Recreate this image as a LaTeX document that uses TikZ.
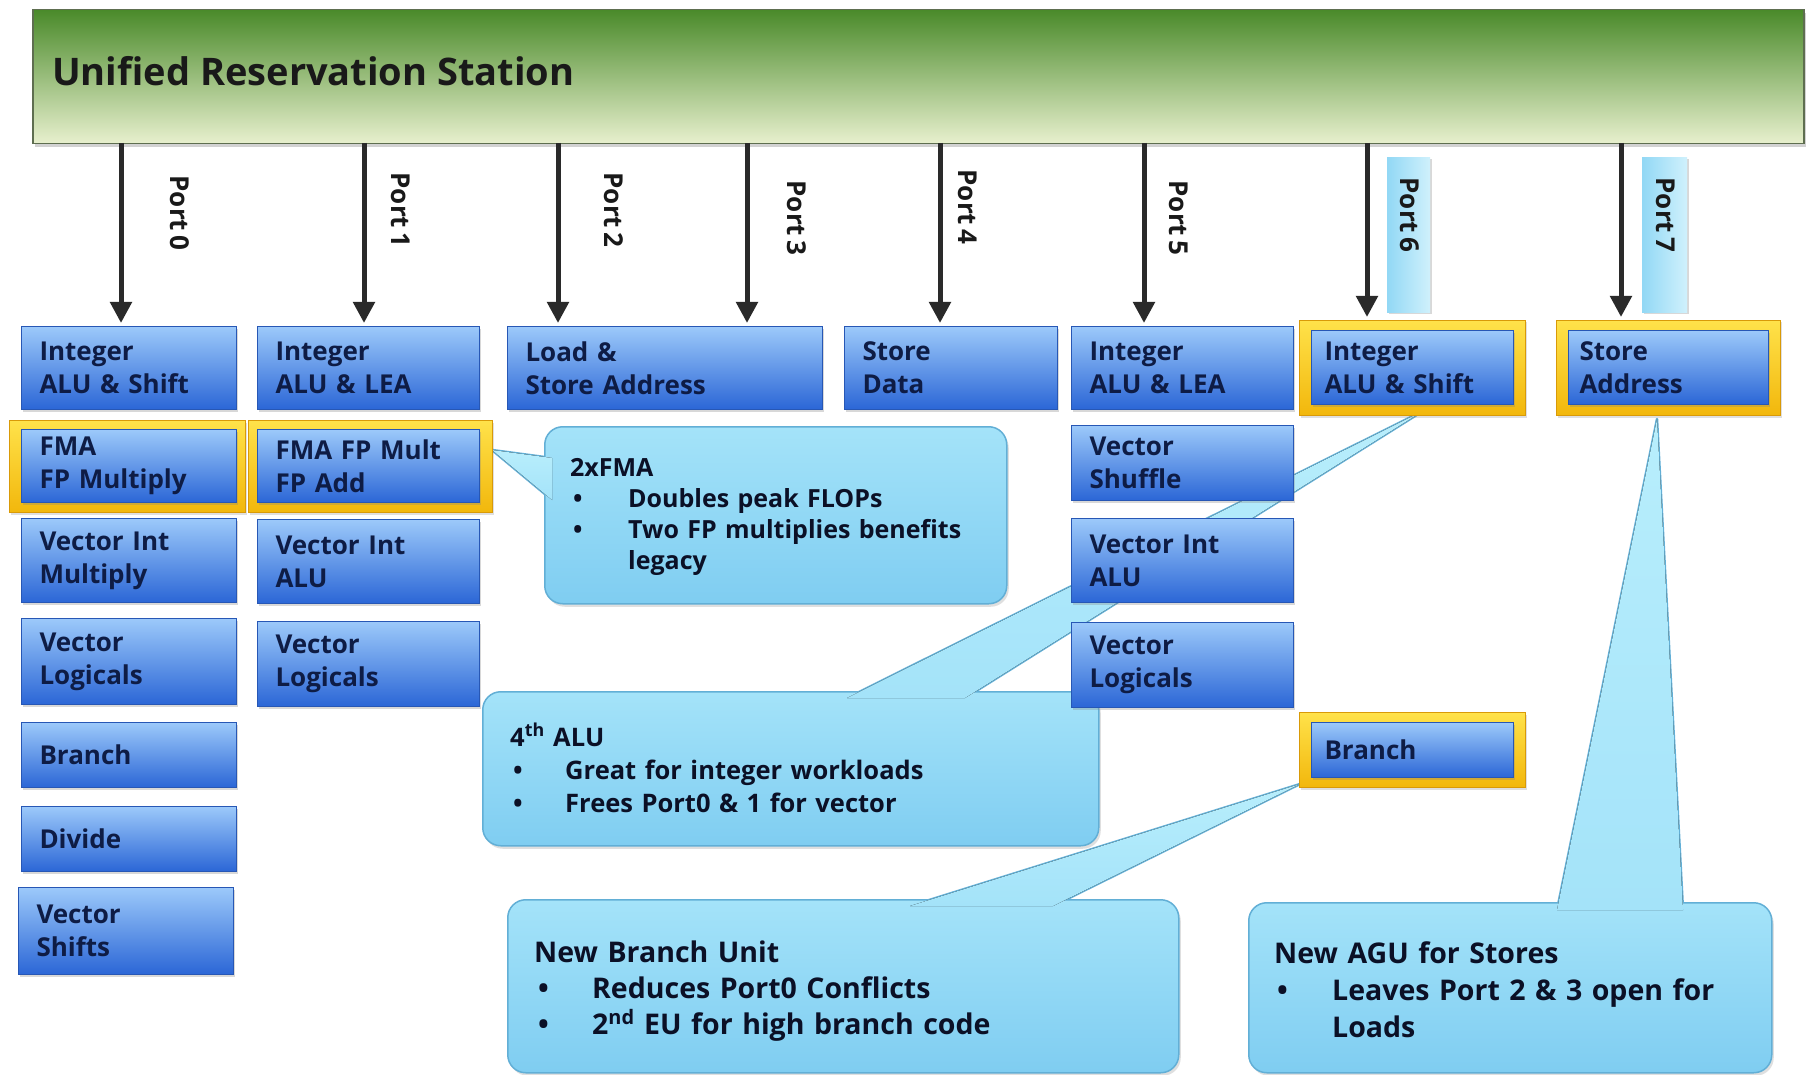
\documentclass[tikz,border=0pt]{standalone}
\usepackage{fontspec}
\setmainfont{Open Sans}
\usetikzlibrary{arrows.meta,shadows}

\definecolor{rsTop}{HTML}{4A8A2A}
\definecolor{rsMid}{HTML}{9CC46C}
\definecolor{rsBot}{HTML}{E8F0CE}
\definecolor{rsEdge}{HTML}{5E6E50}
\definecolor{unitTop}{HTML}{9CC9FA}
\definecolor{unitMid}{HTML}{5C9CF0}
\definecolor{unitBot}{HTML}{2B66D6}
\definecolor{unitEdge}{HTML}{2757B5}
\definecolor{unitText}{HTML}{0E1C45}
\definecolor{hlTop}{HTML}{FFE24A}
\definecolor{hlBot}{HTML}{F2B70C}
\definecolor{hlEdge}{HTML}{D99A08}
\definecolor{noteTop}{HTML}{A4E3F9}
\definecolor{noteBot}{HTML}{7FCDF1}
\definecolor{noteEdge}{HTML}{62AFD6}
\definecolor{tailTop}{HTML}{B8EEFC}
\definecolor{barL}{HTML}{92D8F5}
\definecolor{barR}{HTML}{D0F1FC}
\definecolor{arrowInk}{HTML}{2A2A2A}
\definecolor{noteInk}{HTML}{0B1026}

\tikzset{
  rsbar/.style={anchor=north west, inner sep=0pt, draw=rsEdge, line width=1.5pt,
    top color=rsTop, middle color=rsMid, bottom color=rsBot,
    drop shadow={shadow xshift=2pt, shadow yshift=-3pt, opacity=0.35}},
  unit/.style={anchor=north west, draw=unitEdge, line width=1pt,
    top color=unitTop, middle color=unitMid, bottom color=unitBot,
    text=unitText, align=left, inner xsep=18pt, inner ysep=0pt,
    font=\fontsize{26}{33}\selectfont\bfseries,
    drop shadow={shadow xshift=1.5pt, shadow yshift=-2pt, opacity=0.3}},
  hilite/.style={anchor=north west, inner sep=0pt, draw=hlEdge, line width=1pt,
    top color=hlTop, bottom color=hlBot,
    drop shadow={shadow xshift=1.5pt, shadow yshift=-2pt, opacity=0.25}},
  portbar/.style={anchor=north west, inner sep=0pt, left color=barL, right color=barR,
    drop shadow={shadow xshift=1.5pt, shadow yshift=-2pt, opacity=0.3}},
  portlabel/.style={rotate=-90, inner sep=0pt, text=black!90,
    font=\fontsize{26}{26}\selectfont\bfseries},
  portarrow/.style={draw=arrowInk, line width=5pt, shorten >=3pt,
    -{Triangle[width=21pt,length=21pt]}},
  note/.style={anchor=north west, inner sep=0pt, rounded corners=18pt,
    draw=noteEdge, line width=1.5pt, top color=noteTop, bottom color=noteBot,
    drop shadow={shadow xshift=2pt, shadow yshift=-3pt, opacity=0.25}},
  tailedge/.style={draw=noteEdge, line width=2.5pt, line join=round},
  tailfill/.style={top color=tailTop, bottom color=noteTop},
  notetext/.style={anchor=base west, inner sep=0pt, align=left, text=noteInk,
    text width=560pt},
}

\newcommand{\blt}[1]{\makebox[#1][l]{\textbullet}}

\begin{document}
\begin{tikzpicture}[x=1pt,y=-1pt]
\useasboundingbox[fill=white] (0,0) rectangle (1807,1075);

% reservation station
\node[rsbar, minimum width=1771pt, minimum height=134pt] (rs) at (32,9) {};
\node[anchor=base west, inner sep=0pt, text=black!90,
  font=\fontsize{38}{38}\selectfont\bfseries] (rstitle) at (52,86) {Unified Reservation Station};

% ---- callouts (drawn first, boxes sit on top) ----
% new AGU
\draw[tailedge] (1657,419) -- (1557,910) -- (1683,910) -- cycle;
\node[note, minimum width=523pt, minimum height=170pt] (cagu) at (1248,902) {};
\fill[tailfill] (1657,419) -- (1557,910) -- (1683,910) -- cycle;
\node[notetext, font=\fontsize{28.5}{37}\selectfont\bfseries] (caguText) at (1274,963)
  {New AGU for Stores\\\hspace*{3pt}\blt{55pt}Leaves Port 2 \& 3 open for\\\hspace*{58pt}Loads};

% new branch unit
\draw[tailedge] (1300,784) -- (910,906) -- (1053,906) -- cycle;
\node[note, minimum width=671pt, minimum height=173pt] (cbr) at (507,899) {};
\fill[tailfill] (1300,784) -- (910,906) -- (1053,906) -- cycle;
\node[notetext, font=\fontsize{28.5}{36}\selectfont\bfseries] (cbrText) at (534,962)
  {New Branch Unit\\\hspace*{4pt}\blt{54pt}Reduces Port0 Conflicts\\\hspace*{4pt}\blt{54pt}2\textsuperscript{nd} EU for high branch code};

% 4th ALU
\draw[tailedge] (1423,411) -- (847,698) -- (965,698) -- cycle;
\node[note, minimum width=616pt, minimum height=154pt] (calu) at (482,691) {};
\fill[tailfill] (1423,411) -- (847,698) -- (965,698) -- cycle;
\node[notetext, font=\fontsize{25.5}{33}\selectfont\bfseries] (caluText) at (510,746)
  {4\textsuperscript{th} ALU\\\hspace*{3pt}\blt{52pt}Great for integer workloads\\\hspace*{3pt}\blt{52pt}Frees Port0 \& 1 for vector};

% 2xFMA
\draw[tailedge] (492,450) -- (552,458) -- (552,500) -- cycle;
\node[note, minimum width=462pt, minimum height=177pt] (cfma) at (544,426) {};
\fill[tailfill] (492,450) -- (552,458) -- (552,500) -- cycle;
\node[notetext, font=\fontsize{25}{31.3}\selectfont\bfseries] (cfmaText) at (570,476)
  {2xFMA\\\hspace*{3pt}\blt{55pt}Doubles peak FLOPs\\\hspace*{3pt}\blt{55pt}Two FP multiplies benefits\\\hspace*{58pt}legacy};

% ---- port labels ----
\node[portbar, minimum width=43pt, minimum height=155pt] (bar6) at (1387,157) {};
\node[portbar, minimum width=45pt, minimum height=155pt] (bar7) at (1642,157) {};
\node[portlabel] (lab0) at (180,213) {Port\,0};
\node[portlabel] (lab1) at (401,210) {Port\,1};
\node[portlabel] (lab2) at (614,210) {Port\,2};
\node[portlabel] (lab3) at (797,218) {Port\,3};
\node[portlabel] (lab4) at (968,207) {Port\,4};
\node[portlabel] (lab5) at (1179,218) {Port\,5};
\node[portlabel] (lab6) at (1410,215) {Port\,6};
\node[portlabel] (lab7) at (1666,215) {Port\,7};

% ---- highlight frames ----
\node[hilite, minimum width=236pt, minimum height=92pt] (hl0) at (9,420) {};
\node[hilite, minimum width=244pt, minimum height=92pt] (hl1) at (248,420) {};
\node[hilite, minimum width=226pt, minimum height=95pt] (hl6) at (1299,320) {};
\node[hilite, minimum width=226pt, minimum height=75pt] (hlbr) at (1299,712) {};
\node[hilite, minimum width=224pt, minimum height=95pt] (hl7) at (1556,320) {};

% ---- execution units ----
% port 0
\node[unit, text width=179pt, minimum height=83pt] (u0a) at (21,326) {Integer\\ALU \& Shift};
\node[unit, text width=179pt, minimum height=73pt] (u0b) at (21,429) {FMA\\FP Multiply};
\node[unit, text width=179pt, minimum height=84pt] (u0c) at (21,518) {Vector Int\\Multiply};
\node[unit, text width=179pt, minimum height=86pt] (u0d) at (21,618) {Vector\\Logicals};
\node[unit, text width=179pt, minimum height=65pt] (u0e) at (21,722) {Branch};
\node[unit, text width=179pt, minimum height=65pt] (u0f) at (21,806) {Divide};
\node[unit, text width=179pt, minimum height=87pt] (u0g) at (18,887) {Vector\\Shifts};
% port 1
\node[unit, text width=186pt, minimum height=83pt] (u1a) at (257,326) {Integer\\ALU \& LEA};
\node[unit, text width=186pt, minimum height=73pt] (u1b) at (257,429) {FMA FP Mult\\FP Add};
\node[unit, text width=186pt, minimum height=84pt] (u1c) at (257,519) {Vector Int\\ALU};
\node[unit, text width=186pt, minimum height=85pt] (u1d) at (257,621) {Vector\\Logicals};
% ports 2 and 3
\node[unit, text width=279pt, minimum height=83pt] (u2) at (507,326) {Load \&\\Store Address};
% port 4
\node[unit, text width=177pt, minimum height=83pt] (u3) at (844,326) {Store\\Data};
% port 5
\node[unit, text width=186pt, minimum height=83pt] (u4a) at (1071,326) {Integer\\ALU \& LEA};
\node[unit, text width=186pt, minimum height=75pt] (u4b) at (1071,425) {Vector\\Shuffle};
\node[unit, text width=186pt, minimum height=84pt] (u4c) at (1071,518) {Vector Int\\ALU};
\node[unit, text width=186pt, minimum height=85pt] (u4d) at (1071,622) {Vector\\Logicals};
% port 6
\node[unit, inner xsep=13pt, text width=176pt, minimum height=74pt] (u6) at (1311,330) {Integer\\ALU \& Shift};
\node[unit, inner xsep=13pt, text width=176pt, minimum height=55pt] (ubr) at (1311,722) {Branch};
% port 7
\node[unit, inner xsep=11pt, text width=178pt, minimum height=74pt] (u7) at (1568,330) {Store\\Address};

% ---- dispatch ports ----
\coordinate (s0) at (121,143);
\coordinate (s1) at (364,143);
\coordinate (s2) at (558,143);
\coordinate (s3) at (747,143);
\coordinate (s4) at (940,143);
\coordinate (s5) at (1144,143);
\coordinate (s6) at (1367,143);
\coordinate (s7) at (1621,143);
\draw[portarrow] (s0) -- (s0 |- u0a.north);
\draw[portarrow] (s1) -- (s1 |- u1a.north);
\draw[portarrow] (s2) -- (s2 |- u2.north);
\draw[portarrow] (s3) -- (s3 |- u2.north);
\draw[portarrow] (s4) -- (s4 |- u3.north);
\draw[portarrow] (s5) -- (s5 |- u4a.north);
\draw[portarrow] (s6) -- (s6 |- hl6.north);
\draw[portarrow] (s7) -- (s7 |- hl7.north);
\end{tikzpicture}
\end{document}
